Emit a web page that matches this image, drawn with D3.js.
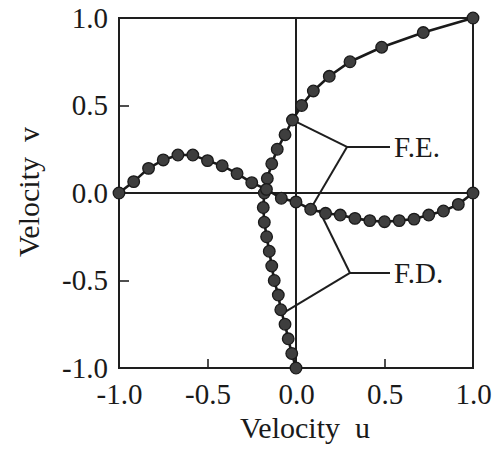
<!DOCTYPE html>
<html>
<head>
<meta charset="utf-8">
<script src="https://cdn.jsdelivr.net/npm/d3@7"></script>
<style>
  html, body { margin: 0; padding: 0; background: #fff; }
  svg { display: block; }
  text { font-family: 'Liberation Serif', 'Times New Roman', serif; fill: #1a1a1a; }
</style>
</head>
<body>
<div id="chart"></div>
<script>
// grid stations along each centreline
const stations = [
  -1.0, -0.917, -0.833, -0.75, -0.667, -0.583, -0.5, -0.417, -0.333, -0.25, -0.167, -0.083,
  0.0, 0.083, 0.167, 0.25, 0.333, 0.417, 0.5, 0.583, 0.667, 0.75, 0.833, 0.917, 1.0,
];

// u velocity on the vertical centreline (u, y)
const uValues = [
  0.0, -0.024, -0.044, -0.062, -0.086, -0.1, -0.123, -0.137, -0.151, -0.166, -0.179, -0.185,
  -0.179, -0.162, -0.137, -0.106, -0.062, -0.02, 0.032, 0.098, 0.188, 0.305, 0.484, 0.719, 1.0,
];

// v velocity on the horizontal centreline (x, v)
const vValues = [
  0.0, 0.065, 0.141, 0.189, 0.217, 0.217, 0.185, 0.156, 0.111, 0.059, 0.021, -0.03,
  -0.051, -0.093, -0.116, -0.126, -0.145, -0.158, -0.164, -0.158, -0.149, -0.126, -0.103, -0.065, 0.0,
];

const tickValues = [-1, -0.5, 0, 0.5, 1];
const tickLabels = ['-1.0', '-0.5', '0.0', '0.5', '1.0'];

// leader lines: label, label anchor, branch ends (data units)
const leaders = [
  { label: 'F.E.', joint: [0.288, 0.263], tail: [0.531, 0.263], ends: [[-0.018, 0.417], [0.083, -0.09]] },
  { label: 'F.D.', joint: [0.305, -0.457], tail: [0.531, -0.457], ends: [[0.13, -0.097], [-0.073, -0.686]] },
];

const width = 492;
const height = 449;
const margin = { top: 18, right: 19, bottom: 81, left: 119 };

const svg = d3
  .select('#chart')
  .append('svg')
  .attr('width', width)
  .attr('height', height);

const x = d3
  .scaleLinear()
  .domain([-1, 1])
  .range([margin.left, width - margin.right]);
const y = d3
  .scaleLinear()
  .domain([-1, 1])
  .range([height - margin.bottom, margin.top]);

const labelFor = d => tickLabels[tickValues.indexOf(d)];

// tick labels
svg
  .append('g')
  .attr('transform', `translate(0,${y(-1)})`)
  .call(d3.axisBottom(x).tickValues(tickValues).tickSize(0).tickPadding(15).tickFormat(labelFor))
  .call(g => g.select('.domain').remove())
  .selectAll('text')
  .attr('font-size', 29);

svg
  .append('g')
  .attr('transform', `translate(${x(-1)},0)`)
  .call(d3.axisLeft(y).tickValues(tickValues).tickSize(0).tickPadding(11).tickFormat(labelFor))
  .call(g => g.select('.domain').remove())
  .selectAll('text')
  .attr('font-size', 29);

// inner ticks at +-0.5
svg
  .append('g')
  .attr('transform', `translate(0,${y(-1)})`)
  .call(d3.axisBottom(x).tickValues([-0.5, 0.5]).tickSizeInner(-9).tickFormat(''))
  .call(g => g.select('.domain').remove())
  .selectAll('line')
  .attr('stroke', '#222')
  .attr('stroke-width', 1.6);

svg
  .append('g')
  .attr('transform', `translate(${x(-1)},0)`)
  .call(d3.axisLeft(y).tickValues([-0.5, 0.5]).tickSizeInner(-10).tickFormat(''))
  .call(g => g.select('.domain').remove())
  .selectAll('line')
  .attr('stroke', '#222')
  .attr('stroke-width', 1.6);

// frame and zero lines
svg
  .append('rect')
  .attr('x', x(-1))
  .attr('y', y(1))
  .attr('width', x(1) - x(-1))
  .attr('height', y(-1) - y(1))
  .attr('fill', 'none')
  .attr('stroke', '#1e1e1e')
  .attr('stroke-width', 2);

svg
  .append('line')
  .attr('x1', x(0))
  .attr('x2', x(0))
  .attr('y1', y(1))
  .attr('y2', y(-1))
  .attr('stroke', '#1e1e1e')
  .attr('stroke-width', 2);

svg
  .append('line')
  .attr('x1', x(-1))
  .attr('x2', x(1))
  .attr('y1', y(0))
  .attr('y2', y(0))
  .attr('stroke', '#1e1e1e')
  .attr('stroke-width', 2);

// leaders
const leaderLine = d3
  .line()
  .x(d => x(d[0]))
  .y(d => y(d[1]));

leaders.forEach(l => {
  svg
    .append('path')
    .attr('d', leaderLine([l.joint, l.tail]))
    .attr('fill', 'none')
    .attr('stroke', '#1e1e1e')
    .attr('stroke-width', 2);
  l.ends.forEach(e => {
    svg
      .append('path')
      .attr('d', leaderLine([e, l.joint]))
      .attr('fill', 'none')
      .attr('stroke', '#1e1e1e')
      .attr('stroke-width', 2);
  });
  svg
    .append('text')
    .attr('x', x(l.tail[0]) + 4)
    .attr('y', y(l.joint[1]))
    .attr('dy', '0.34em')
    .attr('font-size', 29)
    .text(l.label);
});

// curves
const curves = [
  stations.map((s, i) => [uValues[i], s]),
  stations.map((s, i) => [s, vValues[i]]),
];

curves.forEach(pts => {
  svg
    .append('path')
    .attr('d', leaderLine(pts))
    .attr('fill', 'none')
    .attr('stroke', '#1a1a1a')
    .attr('stroke-width', 2.6);

  svg
    .append('g')
    .selectAll('circle')
    .data(pts)
    .join('circle')
    .attr('cx', d => x(d[0]))
    .attr('cy', d => y(d[1]))
    .attr('r', 5.8)
    .attr('fill', '#3e3e3e')
    .attr('stroke', '#1a1a1a')
    .attr('stroke-width', 1.3);
});

// axis titles
svg
  .append('text')
  .attr('x', 305)
  .attr('y', 438)
  .attr('text-anchor', 'middle')
  .attr('font-size', 30)
  .text('Velocity')
  .append('tspan')
  .attr('dx', 15)
  .text('u');

svg
  .append('text')
  .attr('transform', `translate(39,${y(0) - 1}) rotate(-90)`)
  .attr('text-anchor', 'middle')
  .attr('font-size', 30)
  .text('Velocity')
  .append('tspan')
  .attr('dx', 15)
  .text('v');
</script>
</body>
</html>
